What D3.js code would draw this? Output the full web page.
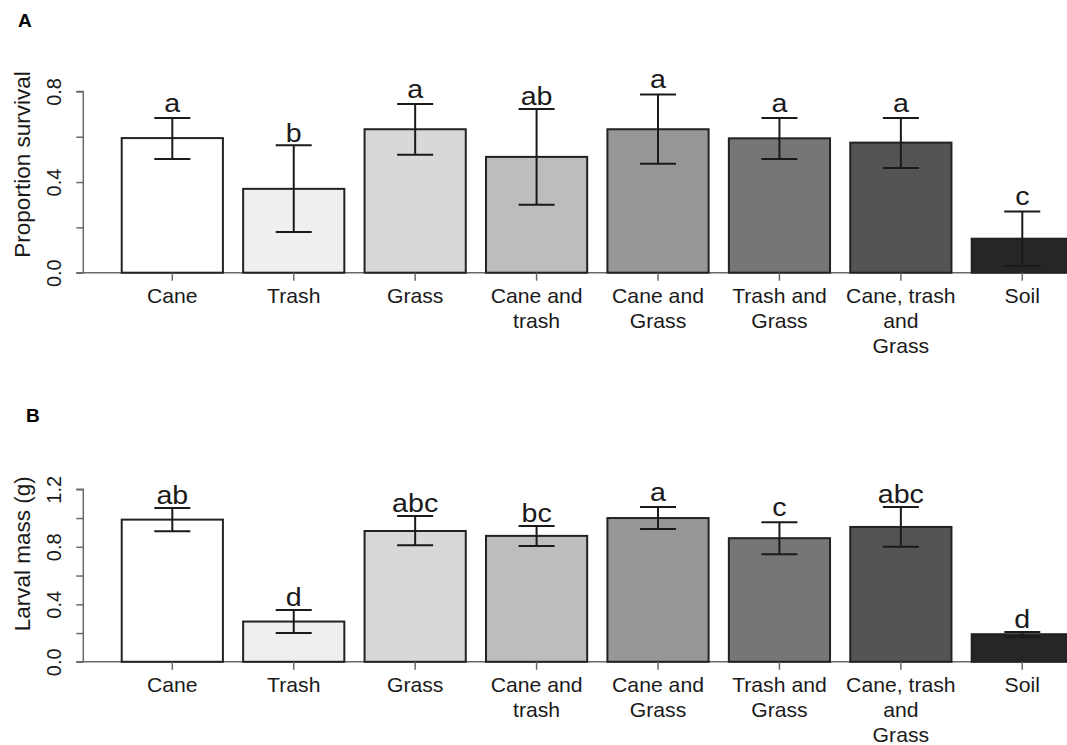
<!DOCTYPE html>
<html><head><meta charset="utf-8">
<script src="https://cdn.jsdelivr.net/npm/d3@7"></script>
<style>body{margin:0;background:#fff}svg{display:block}text{font-family:"Liberation Sans",Arial,sans-serif;fill:#1a1a1a}</style>
</head><body><svg id="c" width="1067" height="745"></svg>
<script>
const categories = ["Cane","Trash","Grass","Cane and\ntrash","Cane and\nGrass","Trash and\nGrass","Cane, trash\nand\nGrass","Soil"];
const barColors = ["#ffffff","#efefef","#d8d8d8","#bdbdbd","#979797","#767676","#545454","#262626"];

const survivalMean  = [0.594, 0.37, 0.633, 0.511, 0.633, 0.593, 0.574, 0.15];
const survivalUpper = [0.683, 0.562, 0.744, 0.722, 0.786, 0.683, 0.683, 0.27];
const survivalLower = [0.502, 0.18, 0.521, 0.30, 0.481, 0.502, 0.462, 0.03];
const survivalLetters = ["a","b","a","ab","a","a","a","c"];
const survivalTicks = [0, 0.2, 0.4, 0.6, 0.8];
const survivalTickLabels = ["0.0","","0.4","","0.8"];

const massMean  = [0.989, 0.28, 0.91, 0.876, 1.0, 0.86, 0.938, 0.192];
const massUpper = [1.07, 0.361, 1.015, 0.945, 1.077, 0.97, 1.077, 0.208];
const massLower = [0.908, 0.20, 0.81, 0.806, 0.924, 0.748, 0.80, 0.174];
const massLetters = ["ab","d","abc","bc","a","c","abc","d"];
const massTicks = [0, 0.2, 0.4, 0.6, 0.8, 1.0, 1.2];
const massTickLabels = ["0.0","","0.4","","0.8","","1.2"];

const svg = d3.select("#c");
const axisX = 83.3;
const x = d3.scaleBand().domain(categories).range([111.6, 1083.0]).paddingInner(1/6).paddingOuter(1/12);

function panel(opt) {
  const g = svg.append("g");
  const y = d3.scaleLinear().domain(opt.domain).range(opt.range);
  g.append("text").attr("x", opt.tagX).attr("y", opt.tagY).text(opt.tag)
    .style("font-weight","bold").style("font-size","19px").style("fill","#000");
  g.append("line").attr("x1", axisX).attr("x2", 1067).attr("y1", y(0)).attr("y2", y(0))
    .attr("stroke", "#6a6a6a").attr("stroke-width", 1.5);
  const ya = d3.axisLeft(y).tickValues(opt.ticks).tickSize(7).tickFormat((d,i)=>opt.tickLabels[i]);
  const ag = g.append("g").attr("transform", `translate(${axisX},0)`).call(ya);
  ag.select(".domain").attr("stroke","#6a6a6a").attr("stroke-width",1.5).attr("d", `M-7,${y(opt.domain[0])}H0V${y(opt.domain[1])}H-7`);
  ag.selectAll(".tick line").attr("stroke","#6a6a6a").attr("stroke-width",1.5);
  ag.selectAll(".tick text").attr("x", null).attr("dy", null)
    .attr("transform", "translate(-22,0) rotate(-90)")
    .attr("text-anchor","middle").attr("y", 0)
    .style("font-size","20px").style("font-family",'"Liberation Sans",Arial,sans-serif').style("fill","#1a1a1a");
  g.append("text").attr("transform", `translate(30,${opt.titleY}) rotate(-90)`).attr("text-anchor","middle")
    .style("font-size","22.5px").text(opt.title);
  g.selectAll("rect.bar").data(categories).join("rect").attr("class","bar")
    .attr("x", d=>x(d)).attr("width", x.bandwidth())
    .attr("y", (d,i)=>y(opt.mean[i])).attr("height", (d,i)=>y(0)-y(opt.mean[i]))
    .attr("fill", (d,i)=>barColors[i]).attr("stroke","#222").attr("stroke-width",2);
  g.selectAll("line.xt").data(categories).join("line").attr("class","xt")
    .attr("x1", d=>x(d)+x.bandwidth()/2).attr("x2", d=>x(d)+x.bandwidth()/2)
    .attr("y1", y(0)).attr("y2", y(0)+8).attr("stroke","#6a6a6a").attr("stroke-width",1.5);
  const lab = g.selectAll("text.xl").data(categories).join("text").attr("class","xl")
    .attr("text-anchor","middle").style("font-size","20px")
    .attr("transform", d=>`translate(${x(d)+x.bandwidth()/2},${y(0)+30.2}) scale(1.06,1)`);
  lab.each(function(d){
    const t = d3.select(this);
    d.split("\n").forEach((s,k)=>t.append("tspan").attr("x",0).attr("y",k*25).text(s));
  });
  const cap = 18;
  categories.forEach((c,i)=>{
    const cx = x(c)+x.bandwidth()/2;
    const e = g.append("g").attr("stroke","#1a1a1a").attr("stroke-width",2);
    e.append("line").attr("x1",cx).attr("x2",cx).attr("y1",y(opt.lower[i])).attr("y2",y(opt.upper[i]));
    e.append("line").attr("x1",cx-cap).attr("x2",cx+cap).attr("y1",y(opt.upper[i])).attr("y2",y(opt.upper[i]));
    e.append("line").attr("x1",cx-cap).attr("x2",cx+cap).attr("y1",y(opt.lower[i])).attr("y2",y(opt.lower[i]));
    const tall = /[bdfhklt]/.test(opt.letters[i]);
    const by = y(opt.upper[i]) - (tall ? 3.6 : 6.4);
    g.append("text").attr("text-anchor","middle")
      .attr("transform",`translate(${cx},${by}) scale(1.1,1)`)
      .style("font-size","26px").text(opt.letters[i]);
  });
}

panel({tag:"A", tagX:18, tagY:26.7, domain:[0,0.8], range:[272.7,91.4], ticks:survivalTicks, tickLabels:survivalTickLabels,
  title:"Proportion survival", titleY:164.5, mean:survivalMean, upper:survivalUpper, lower:survivalLower, letters:survivalLetters});
panel({tag:"B", tagX:26, tagY:421.7, domain:[0,1.2], range:[661.8,489.3], ticks:massTicks, tickLabels:massTickLabels,
  title:"Larval mass (g)", titleY:553.8, mean:massMean, upper:massUpper, lower:massLower, letters:massLetters});
</script></body></html>
